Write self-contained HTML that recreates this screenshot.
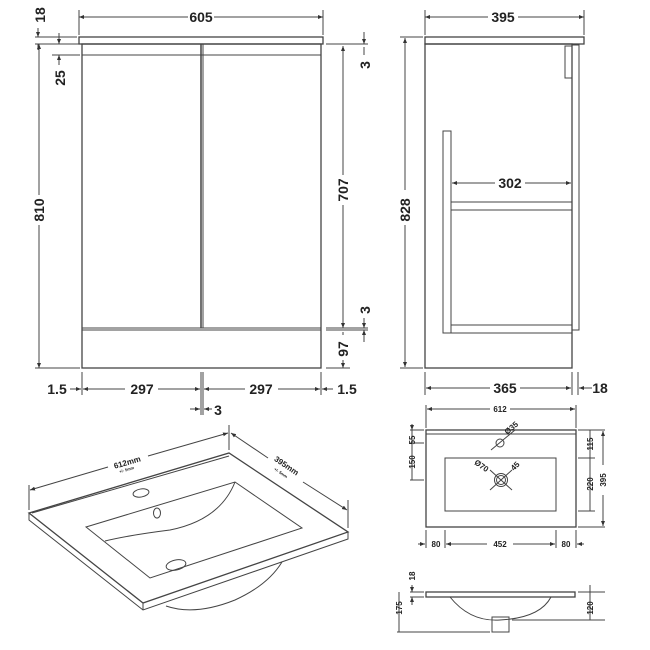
<!DOCTYPE html>
<html><head><meta charset="utf-8"><style>
html,body{margin:0;padding:0;background:#fff;width:650px;height:650px;overflow:hidden}
svg{display:block}
text{font-family:"Liberation Sans",sans-serif;font-weight:bold;fill:#222}
</style></head><body>
<svg width="650" height="650" viewBox="0 0 650 650" xmlns="http://www.w3.org/2000/svg">
<defs>
<marker id="a" viewBox="0 0 10 10" refX="10" refY="5" markerWidth="5" markerHeight="5" orient="auto-start-reverse"><path d="M0,1 L10,5 L0,9 z" fill="#333"/></marker>
</defs>
<g stroke="#444" stroke-width="1" fill="none">
<rect x="79" y="37" width="244" height="7" stroke-width="1.3"/>
<rect x="82" y="44" width="239" height="324" stroke-width="1.3"/>
<line x1="82" y1="55" x2="321" y2="55"/>
<line x1="82" y1="328" x2="321" y2="328"/>
<line x1="82" y1="330" x2="321" y2="330"/>
<line x1="201" y1="44" x2="201" y2="328" stroke-width="1.5"/>
<line x1="203" y1="44" x2="203" y2="328"/>
<line x1="79" y1="10" x2="79" y2="35"/><line x1="323" y1="10" x2="323" y2="35"/>
<line x1="79" y1="17" x2="188" y2="17" marker-start="url(#a)"/><line x1="214" y1="17" x2="323" y2="17" marker-end="url(#a)"/>
<line x1="35" y1="37" x2="77" y2="37"/><line x1="35" y1="44" x2="80" y2="44"/>
<line x1="52" y1="55" x2="80" y2="55"/><line x1="35" y1="368" x2="80" y2="368"/>
<line x1="38" y1="28" x2="38" y2="37" marker-end="url(#a)"/><line x1="38" y1="44" x2="38" y2="50"/>
<line x1="59" y1="33" x2="59" y2="44" marker-end="url(#a)"/><line x1="59" y1="55" x2="59" y2="65" marker-start="url(#a)"/>
<line x1="39" y1="44" x2="39" y2="195" marker-start="url(#a)"/><line x1="39" y1="225" x2="39" y2="368" marker-end="url(#a)"/>
<line x1="326" y1="44" x2="368" y2="44"/><line x1="326" y1="328" x2="368" y2="328"/><line x1="326" y1="330" x2="368" y2="330"/><line x1="326" y1="368" x2="350" y2="368"/>
<line x1="343" y1="46" x2="343" y2="175" marker-start="url(#a)"/><line x1="343" y1="205" x2="343" y2="328" marker-end="url(#a)"/>
<line x1="364" y1="32" x2="364" y2="44" marker-end="url(#a)"/><line x1="364" y1="47" x2="364" y2="55"/>
<line x1="364" y1="318" x2="364" y2="328" marker-end="url(#a)"/><line x1="364" y1="330" x2="364" y2="342" marker-start="url(#a)"/>
<line x1="343" y1="332" x2="343" y2="335"/><line x1="343" y1="360" x2="343" y2="368" marker-end="url(#a)"/>
<line x1="82" y1="372" x2="82" y2="395"/><line x1="201" y1="372" x2="201" y2="415"/><line x1="203" y1="372" x2="203" y2="415"/><line x1="321" y1="372" x2="321" y2="395"/>
<line x1="70" y1="389" x2="81" y2="389" marker-end="url(#a)"/>
<line x1="83" y1="389" x2="125" y2="389" marker-start="url(#a)"/><line x1="158" y1="389" x2="200" y2="389" marker-end="url(#a)"/>
<line x1="204" y1="389" x2="245" y2="389" marker-start="url(#a)"/><line x1="278" y1="389" x2="320" y2="389" marker-end="url(#a)"/>
<line x1="322" y1="389" x2="333" y2="389" marker-start="url(#a)"/>
<line x1="190" y1="409" x2="200" y2="409" marker-end="url(#a)"/><line x1="204" y1="409" x2="212" y2="409" marker-start="url(#a)"/>

<rect x="425" y="37" width="159" height="7" stroke-width="1.3"/>
<rect x="425" y="44" width="147" height="324" stroke-width="1.3"/>
<rect x="572" y="45" width="7" height="285"/>
<rect x="565" y="46" width="7" height="32"/>
<rect x="443" y="131" width="8" height="202"/>
<rect x="451" y="202" width="121" height="8"/>
<rect x="451" y="325" width="121" height="8"/>
<line x1="425" y1="10" x2="425" y2="35"/><line x1="584" y1="10" x2="584" y2="35"/>
<line x1="425" y1="17" x2="488" y2="17" marker-start="url(#a)"/><line x1="518" y1="17" x2="584" y2="17" marker-end="url(#a)"/>
<line x1="400" y1="37" x2="423" y2="37"/><line x1="400" y1="368" x2="423" y2="368"/>
<line x1="405" y1="38" x2="405" y2="190" marker-start="url(#a)"/><line x1="405" y1="225" x2="405" y2="367" marker-end="url(#a)"/>
<line x1="452" y1="183" x2="495" y2="183" marker-start="url(#a)"/><line x1="525" y1="183" x2="571" y2="183" marker-end="url(#a)"/>
<line x1="425" y1="372" x2="425" y2="395"/><line x1="572" y1="372" x2="572" y2="395"/><line x1="578" y1="372" x2="578" y2="395"/>
<line x1="426" y1="388" x2="490" y2="388" marker-start="url(#a)"/><line x1="520" y1="388" x2="571" y2="388" marker-end="url(#a)"/>
<line x1="579" y1="388" x2="592" y2="388" marker-start="url(#a)"/>

<rect x="426" y="430" width="150" height="97" stroke-width="1.3"/>
<line x1="426" y1="434" x2="576" y2="434"/>
<rect x="445" y="458" width="111" height="53"/>
<circle cx="500" cy="443" r="4"/><line x1="491" y1="450" x2="515" y2="430"/>
<circle cx="501" cy="480" r="6.5"/><circle cx="501" cy="480" r="4.5"/>
<line x1="490" y1="470" x2="512" y2="490"/><line x1="490" y1="490" x2="512" y2="470"/>
<line x1="426" y1="405" x2="426" y2="428"/><line x1="576" y1="405" x2="576" y2="428"/>
<line x1="427" y1="409" x2="490" y2="409" marker-start="url(#a)"/><line x1="510" y1="409" x2="575" y2="409" marker-end="url(#a)"/>
<line x1="410" y1="430" x2="424" y2="430"/><line x1="410" y1="443" x2="424" y2="443"/><line x1="410" y1="480" x2="424" y2="480"/>
<line x1="412" y1="424" x2="412" y2="430" marker-end="url(#a)"/><line x1="412" y1="430" x2="412" y2="480"/>
<line x1="578" y1="430" x2="605" y2="430"/><line x1="578" y1="458" x2="595" y2="458"/><line x1="578" y1="511" x2="595" y2="511"/><line x1="578" y1="527" x2="605" y2="527"/>
<line x1="590" y1="430" x2="590" y2="511"/><line x1="603" y1="431" x2="603" y2="465" marker-start="url(#a)"/><line x1="603" y1="495" x2="603" y2="526" marker-end="url(#a)"/>
<line x1="426" y1="530" x2="426" y2="548"/><line x1="445" y1="530" x2="445" y2="548"/><line x1="556" y1="530" x2="556" y2="548"/><line x1="576" y1="530" x2="576" y2="548"/>
<line x1="418" y1="544" x2="425" y2="544" marker-end="url(#a)"/>
<line x1="446" y1="544" x2="487" y2="544" marker-start="url(#a)"/><line x1="513" y1="544" x2="555" y2="544" marker-end="url(#a)"/>
<line x1="577" y1="544" x2="584" y2="544" marker-start="url(#a)"/>

<rect x="426" y="592" width="149" height="5" stroke-width="1.3"/>
<path d="M450,597 Q470,622 500,620 Q540,618 551,597"/>
<rect x="492" y="617" width="17" height="15"/>
<line x1="410" y1="592" x2="424" y2="592"/><line x1="410" y1="597" x2="424" y2="597"/><line x1="397" y1="632" x2="490" y2="632"/>
<line x1="412" y1="585" x2="412" y2="592" marker-end="url(#a)"/><line x1="412" y1="597" x2="412" y2="605" marker-start="url(#a)"/>
<line x1="399" y1="592" x2="399" y2="632"/>
<line x1="578" y1="592" x2="605" y2="592"/><line x1="512" y1="620" x2="605" y2="620"/>
<line x1="590" y1="585" x2="590" y2="620"/>

<path d="M29,513 L229,453 L348,532 L143,603 Z" stroke-width="1.3"/>
<path d="M29,513 L29,520 L143,610 L348,539 L348,532"/>
<line x1="143" y1="603" x2="143" y2="610"/>
<path d="M32,513 L229,456" />
<path d="M86,527 L235,482 L302,528 L150,578 Z"/>
<path d="M235,482 Q220,520 170,530 Q130,535 105,541"/>
<path d="M166,606 Q195,616 235,600 Q268,585 282,562"/>
<ellipse cx="141" cy="493" rx="8" ry="4" transform="rotate(-10 141 493)"/>
<ellipse cx="157" cy="513" rx="3.5" ry="5"/>
<ellipse cx="176" cy="565" rx="10" ry="5" transform="rotate(-12 176 565)"/>
<line x1="29" y1="485" x2="29" y2="510"/><line x1="229" y1="425" x2="229" y2="450"/><line x1="348" y1="500" x2="348" y2="528"/>
<line x1="30" y1="490" x2="108" y2="467" marker-start="url(#a)"/><line x1="148" y1="456" x2="228" y2="433" marker-end="url(#a)"/>
<line x1="231" y1="433" x2="268" y2="458" marker-start="url(#a)"/><line x1="303" y1="482" x2="347" y2="510" marker-end="url(#a)"/>
</g>
<g font-size="14">
<text x="201" y="22" text-anchor="middle">605</text>
<text x="503" y="22" text-anchor="middle">395</text>
<text x="510" y="188" text-anchor="middle">302</text>
<text x="505" y="393" text-anchor="middle">365</text>
<text x="600" y="393" text-anchor="middle">18</text>
<text x="57" y="394" text-anchor="middle">1.5</text>
<text x="142" y="394" text-anchor="middle">297</text>
<text x="261" y="394" text-anchor="middle">297</text>
<text x="347" y="394" text-anchor="middle">1.5</text>
<text x="218" y="415" text-anchor="middle">3</text>
<text transform="translate(45,15) rotate(-90)" text-anchor="middle">18</text>
<text transform="translate(65,78) rotate(-90)" text-anchor="middle">25</text>
<text transform="translate(44,210) rotate(-90)" text-anchor="middle">810</text>
<text transform="translate(348,190) rotate(-90)" text-anchor="middle">707</text>
<text transform="translate(370,65) rotate(-90)" text-anchor="middle">3</text>
<text transform="translate(370,310) rotate(-90)" text-anchor="middle">3</text>
<text transform="translate(348,349) rotate(-90)" text-anchor="middle">97</text>
<text transform="translate(410,210) rotate(-90)" text-anchor="middle">828</text>
</g>
<g font-size="8">
<text x="500" y="412" text-anchor="middle">612</text>
<text x="436" y="547" text-anchor="middle">80</text>
<text x="500" y="547" text-anchor="middle">452</text>
<text x="566" y="547" text-anchor="middle">80</text>
<text transform="translate(415,440) rotate(-90)" text-anchor="middle">55</text>
<text transform="translate(415,462) rotate(-90)" text-anchor="middle">150</text>
<text transform="translate(593,444) rotate(-90)" text-anchor="middle">115</text>
<text transform="translate(593,484) rotate(-90)" text-anchor="middle">220</text>
<text transform="translate(606,480) rotate(-90)" text-anchor="middle">395</text>
<text transform="translate(415,576) rotate(-90)" text-anchor="middle">18</text>
<text transform="translate(402,608) rotate(-90)" text-anchor="middle">175</text>
<text transform="translate(593,608) rotate(-90)" text-anchor="middle">120</text>
<text transform="translate(513,430) rotate(-40)" text-anchor="middle">Ø35</text>
<text transform="translate(480,468) rotate(35)" text-anchor="middle">Ø70</text>
<text transform="translate(517,468) rotate(-45)" text-anchor="middle">45</text>
<text transform="translate(128,465) rotate(-16)" text-anchor="middle">612mm</text>
<text transform="translate(285,468) rotate(34)" text-anchor="middle">395mm</text>
</g>
<g font-size="4">
<text transform="translate(127,471) rotate(-16)" text-anchor="middle">+/- 5mm</text>
<text transform="translate(280,474) rotate(34)" text-anchor="middle">+/- 5mm</text>
</g>
</svg>
</body></html>
